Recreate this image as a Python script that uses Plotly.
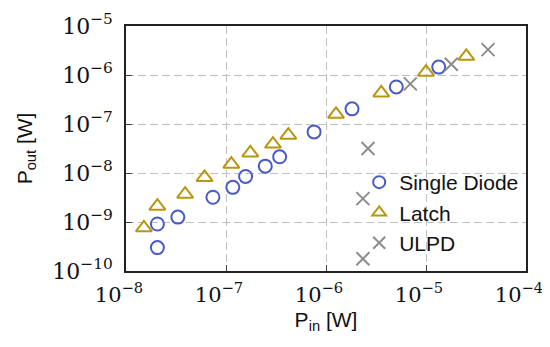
import plotly.graph_objects as go

# Single Diode
sd_pin = [2.06e-8, 2.06e-8, 3.3e-8, 7.4e-8, 1.17e-7, 1.57e-7, 2.47e-7, 3.44e-7, 7.6e-7, 1.82e-6, 5.05e-6, 1.34e-5]
sd_pout = [3.0e-10, 9.1e-10, 1.26e-9, 3.2e-9, 5.1e-9, 8.5e-9, 1.38e-8, 2.14e-8, 6.9e-8, 2.04e-7, 5.7e-7, 1.45e-6]

# Latch
la_pin = [1.51e-8, 2.06e-8, 3.9e-8, 6.1e-8, 1.13e-7, 1.75e-7, 2.95e-7, 4.2e-7, 1.26e-6, 3.57e-6, 1.0e-5, 2.53e-5]
la_pout = [7.6e-10, 2.1e-9, 3.7e-9, 8.1e-9, 1.51e-8, 2.57e-8, 3.9e-8, 5.9e-8, 1.58e-7, 4.3e-7, 1.14e-6, 2.4e-6]

# ULPD
ul_pin = [2.34e-6, 2.34e-6, 2.63e-6, 6.97e-6, 1.79e-5, 4.17e-5]
ul_pout = [1.78e-10, 3.0e-9, 3.16e-8, 6.6e-7, 1.66e-6, 3.3e-6]

x_ticks = [1e-8, 1e-7, 1e-6, 1e-5, 1e-4]
x_ticktext = ["10<sup>−8</sup>", "10<sup>−7</sup>", "10<sup>−6</sup>", "10<sup>−5</sup>", "10<sup>−4</sup>"]
y_ticks = [1e-10, 1e-9, 1e-8, 1e-7, 1e-6, 1e-5]
y_ticktext = ["10<sup>−10</sup>", "10<sup>−9</sup>", "10<sup>−8</sup>", "10<sup>−7</sup>", "10<sup>−6</sup>", "10<sup>−5</sup>"]

blue = "#4a5bc8"
gold = "#b8960f"
gray = "#8c8c8c"

fig = go.Figure()
fig.add_trace(go.Scatter(x=sd_pin, y=sd_pout, mode="markers", name="Single Diode",
                         marker=dict(symbol="circle-open", size=13, color=blue, line=dict(width=2, color=blue))))
fig.add_trace(go.Scatter(x=la_pin, y=la_pout, mode="markers", name="Latch",
                         marker=dict(symbol="triangle-up-open", size=14, color=gold, line=dict(width=2, color=gold))))
fig.add_trace(go.Scatter(x=ul_pin, y=ul_pout, mode="markers", name="ULPD",
                         marker=dict(symbol="x-thin-open", size=13, color=gray, line=dict(width=2, color=gray))))

axis_common = dict(
    type="log", showline=True, linecolor="#222222", linewidth=1.5, mirror=True,
    showgrid=True, gridcolor="#c0c0c0", gridwidth=1.2, griddash="8px,4px",
    ticks="inside", ticklen=6, tickcolor="#444444", tickwidth=1,
    zeroline=False, tickmode="array", automargin=False,
)

fig.update_layout(
    width=550, height=347,
    margin=dict(l=118, r=32, t=18, b=84),
    paper_bgcolor="white", plot_bgcolor="white",
    showlegend=True,
    legend=dict(x=0.583, y=0.445, xanchor="left", yanchor="top",
                bgcolor="rgba(0,0,0,0)", font=dict(family="Liberation Sans", size=21, color="#111111"),
                itemsizing="constant", tracegroupgap=0),
    xaxis=dict(axis_common, range=[-8, -4], tickvals=x_ticks, ticktext=x_ticktext,
               tickfont=dict(family="DejaVu Serif", size=21, color="#111111"),
               ticklabelshift=-7, ticklabelstandoff=4,
               title=dict(text="P<sub>in</sub> [W]", font=dict(family="Liberation Sans", size=21, color="#111111"), standoff=6)),
    yaxis=dict(axis_common, range=[-10, -5], tickvals=y_ticks, ticktext=y_ticktext,
               tickfont=dict(family="DejaVu Serif", size=22, color="#111111"),
               ticklabelstandoff=7,
               title=dict(text="P<sub>out</sub> [W]", font=dict(family="Liberation Sans", size=21, color="#111111"), standoff=14)),
)

fig.write_html("out.html")
